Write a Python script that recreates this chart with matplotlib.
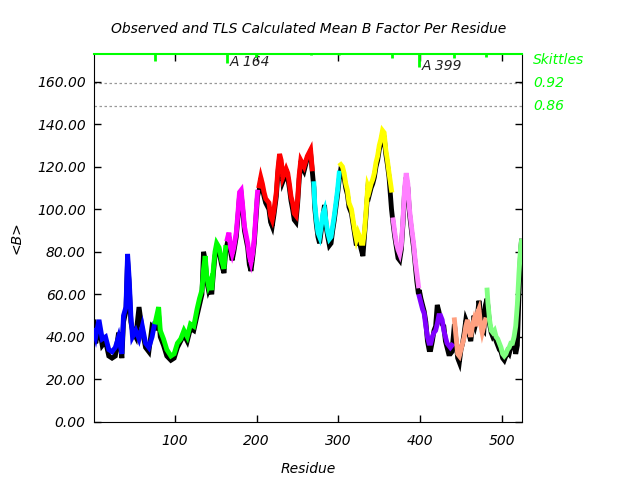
import matplotlib
matplotlib.use("Agg")
import matplotlib.pyplot as plt
import matplotlib.transforms as mtransforms

# TLS groups: residues, TLS calculated <B>, observed <B>
res_a = [1, 3, 7, 11, 15, 19, 23, 27, 31, 35, 37, 40, 42, 44, 46, 48, 52, 56, 60, 64, 68, 72, 75]
tls_a = [43, 40, 48, 39, 40, 34, 33, 35, 40, 32, 50, 54, 79, 67, 50, 40, 43, 39, 45, 37, 35, 40, 46]
obs_a = [47, 37, 45, 36, 38, 31, 30, 31, 42, 30, 47, 52, 76, 64, 47, 43, 40, 54, 43, 35, 33, 45, 44]

res_b = [76, 80, 82, 86, 90, 95, 99, 103, 107, 111, 115, 119, 123, 127, 130, 133, 135, 137, 139,
         141, 143, 145, 147, 149, 151, 154, 157, 160, 162]
tls_b = [47, 54, 43, 39, 34, 31, 32, 37, 39, 43, 40, 46, 45, 53, 58, 62, 72, 78, 68,
         64, 66, 62, 72, 80, 84, 82, 76, 72, 82]
obs_b = [44, 50, 40, 36, 31, 29, 30, 35, 38, 41, 38, 44, 43, 50, 55, 60, 80, 76, 66,
         62, 64, 60, 70, 78, 82, 80, 74, 70, 80]

res_c = [164, 166, 168, 170, 172, 175, 177, 179, 181, 183, 185, 189, 191, 193, 195, 197, 199, 201]
tls_c = [86, 89, 82, 79, 82, 89, 98, 108, 109, 101, 92, 84, 78, 75, 79, 86, 97, 108]
obs_c = [84, 87, 80, 76, 80, 87, 96, 106, 107, 99, 90, 82, 74, 71, 77, 84, 95, 106]

res_d = [203, 205, 207, 209, 211, 215, 217, 219, 221, 224, 226, 228, 230, 232, 234, 236, 238,
         240, 242, 244, 246, 248, 250, 252, 254, 258, 262, 266, 268]
tls_d = [111, 115, 112, 108, 105, 103, 97, 95, 99, 108, 119, 126, 123, 115, 117, 119, 117,
         112, 106, 103, 98, 97, 104, 116, 123, 120, 125, 128, 119]
obs_d = [109, 113, 110, 106, 103, 100, 94, 92, 97, 106, 117, 124, 121, 113, 115, 117, 115,
         110, 104, 100, 95, 94, 102, 114, 121, 118, 124, 126, 118]

res_e = [270, 271, 273, 275, 277, 279, 281, 283, 285, 287, 289, 291, 293, 295, 297, 299, 301]
tls_e = [112, 103, 95, 89, 87, 92, 98, 100, 94, 89, 86, 87, 92, 97, 103, 109, 117]
obs_e = [110, 101, 93, 87, 84, 90, 96, 102, 92, 87, 83, 84, 90, 95, 101, 107, 114]

res_f = [303, 305, 307, 309, 311, 313, 316, 318, 320, 322, 324, 326, 328, 330, 332, 334, 336,
         338, 340, 342, 344, 346, 348, 350, 352, 354, 356, 358, 360, 362, 365]
tls_f = [121, 120, 117, 112, 109, 103, 100, 95, 90, 86, 89, 87, 84, 84, 90, 100, 111,
         109, 112, 114, 117, 122, 125, 130, 133, 137, 136, 128, 123, 117, 109]
obs_f = [119, 118, 115, 110, 107, 101, 98, 93, 88, 83, 86, 84, 81, 78, 88, 98, 109,
         107, 110, 112, 115, 120, 123, 128, 131, 135, 134, 126, 121, 115, 100]

res_g = [367, 369, 371, 373, 375, 377, 379, 381, 383, 385, 387, 390, 392, 394, 396, 398]
tls_g = [95, 89, 84, 81, 79, 83, 95, 110, 117, 112, 100, 90, 84, 76, 70, 64]
obs_g = [93, 87, 82, 77, 76, 81, 93, 108, 115, 110, 98, 88, 82, 74, 66, 60]

res_h = [399, 401, 403, 405, 407, 409, 411, 413, 415, 417, 419, 421, 423, 425, 427, 429, 431,
         433, 435, 437, 439]
tls_h = [59, 56, 53, 51, 45, 40, 37, 37, 40, 42, 43, 46, 50, 50, 48, 43, 40, 37, 36, 35, 36]
obs_h = [62, 58, 55, 52, 47, 38, 34, 34, 38, 43, 45, 55, 52, 48, 46, 45, 38, 35, 32, 32, 33]

res_i = [442, 444, 446, 448, 450, 452, 454, 456, 458, 460, 462, 464, 466, 468, 470, 472, 474,
         476, 478, 480]
tls_i = [48, 40, 32, 31, 34, 37, 40, 45, 48, 43, 40, 45, 48, 45, 51, 53, 46, 42, 45, 48]
obs_i = [46, 38, 30, 28, 34, 37, 42, 48, 46, 41, 38, 44, 50, 46, 49, 57, 52, 44, 43, 55]

res_j = [482, 483, 485, 487, 489, 491, 493, 495, 497, 499, 501, 503, 505, 507, 509, 511, 513,
         515, 517, 519, 521, 523, 524]
tls_j = [62, 56, 48, 43, 42, 43, 40, 39, 37, 35, 32, 31, 32, 34, 35, 37, 37, 40, 45, 55, 70, 82, 85]
obs_j = [58, 54, 46, 42, 40, 41, 38, 36, 34, 33, 30, 29, 31, 33, 32, 35, 36, 38, 32, 36, 60, 80, 85]

groups = [
    (res_a, tls_a, obs_a, "#0000ff"),
    (res_b, tls_b, obs_b, "#00ff00"),
    (res_c, tls_c, obs_c, "#ff00ff"),
    (res_d, tls_d, obs_d, "#ff0000"),
    (res_e, tls_e, obs_e, "#00ffff"),
    (res_f, tls_f, obs_f, "#ffff00"),
    (res_g, tls_g, obs_g, "#ff80ff"),
    (res_h, tls_h, obs_h, "#8000ff"),
    (res_i, tls_i, obs_i, "#ffa080"),
    (res_j, tls_j, obs_j, "#80ff80"),
]

# skittles marks hanging from the top axis
skit_res = [75, 164, 199, 266, 301, 365, 399, 442, 481]
skit_len = [3.3, 4.2, 1.2, 0.6, 0.6, 1.8, 6.0, 1.8, 1.5]
skit_labels = {164: "A 164", 399: "A 399"}
skit_levels = [159.5, 148.6]
skit_level_labels = ["0.92", "0.86"]

ymax = 173.0

fig = plt.figure(figsize=(6.4, 4.8), dpi=100)
ax = fig.add_axes([0.147, 0.121, 0.669, 0.7665])

all_obs_x = []
all_obs_y = []
for r, t, o, c in groups:
    all_obs_x += r
    all_obs_y += o
ax.plot(all_obs_x, all_obs_y, color="black", lw=3.5, solid_joinstyle="miter", zorder=2)
for r, t, o, c in groups:
    ax.plot(r, t, color=c, lw=3.5, solid_joinstyle="miter", zorder=3)

for lvl in skit_levels:
    ax.axhline(lvl, color="#999999", lw=0.9, ls=(0, (2, 2)), zorder=1)

ax.vlines(skit_res, [ymax - l for l in skit_len], ymax, color="#00ff00", lw=2, zorder=4)
for r, lab in skit_labels.items():
    ln = skit_len[skit_res.index(r)]
    ax.text(r + 3, ymax - ln + 0.5, lab, style="italic", fontsize=10, va="center", ha="left",
            color="#222222")

ax.set_xlim(1, 525)
ax.set_ylim(0, ymax)
ax.set_xticks([100, 200, 300, 400, 500])
ax.set_yticks([0, 20, 40, 60, 80, 100, 120, 140, 160])
ax.set_yticklabels(["%.2f" % v for v in ax.get_yticks()])
ax.tick_params(direction="in", top=True, right=True, length=5, width=1, labelsize=10, pad=6)
ax.tick_params(axis="x", pad=9)
for lab in ax.get_xticklabels() + ax.get_yticklabels():
    lab.set_style("italic")
ax.spines["top"].set_color("#00ff00")
ax.spines["top"].set_linewidth(1.5)

ax.set_title("Observed and TLS Calculated Mean B Factor Per Residue", style="italic",
             fontsize=10, pad=15)
ax.set_xlabel("Residue", style="italic", fontsize=10, labelpad=10)
ax.set_ylabel("<B>", style="italic", fontsize=10, labelpad=10)

trans = mtransforms.blended_transform_factory(ax.transAxes, ax.transData)
ax.text(1.025, 170, "Skittles", transform=trans, color="#00ff00", style="italic",
        fontsize=10, va="center")
for lvl, lab in zip(skit_levels, skit_level_labels):
    ax.text(1.025, lvl, lab, transform=trans, color="#00ff00", style="italic",
            fontsize=10, va="center")

fig.savefig("out.png", dpi=100)
